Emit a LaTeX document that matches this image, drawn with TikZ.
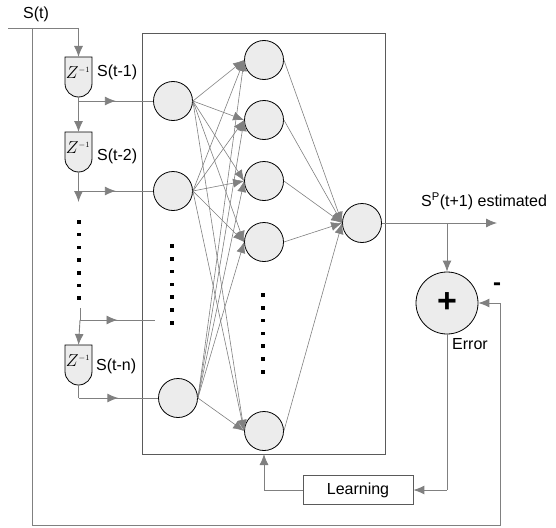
\documentclass[tikz,border=0pt]{standalone}
\usepackage{fontspec}
\setmainfont{Liberation Sans}
\usetikzlibrary{arrows.meta,decorations.markings,calc}
\definecolor{lgray}{RGB}{128,128,128}
\definecolor{nfill}{RGB}{236,236,236}
\definecolor{bgray}{RGB}{90,90,90}
\tikzset{
  conn/.style={draw=lgray, line width=0.9pt},
  tip/.style={-{Latex[length=11pt,width=9pt]}, lgray},
  arr/.style={conn, tip},
  midarr/.style={conn, postaction={decorate}, decoration={markings,
     mark=at position 0.5 with {\arrow[lgray]{Latex[length=11pt,width=9pt]}}}},
  neuron/.style={circle, draw=black, fill=nfill, line width=0.8pt, minimum size=39pt, inner sep=0pt},
  delaybox/.style={draw=black, fill=nfill, line width=0.8pt},
  lbl/.style={font=\fontsize{16}{19}\selectfont, inner sep=0pt},
  dotsq/.style={fill=black, minimum size=3.5pt, inner sep=0pt, draw=none, rectangle},
}
\begin{document}
\begin{tikzpicture}[x=1pt,y=-1pt]
\useasboundingbox (0,0) rectangle (556,527);

% outer network box
\node[draw=bgray, line width=1pt, minimum width=243pt, minimum height=420pt, inner sep=0pt] (net) at (263.5,244) {};

% delay boxes
\foreach \n/\t in {1/57, 2/132, 3/345} {
  \path[delaybox] (65,\t) -- (92,\t) -- (92,\t+26.5) arc[start angle=0, end angle=180, radius=13.5] -- cycle;
  \node[inner sep=0pt, minimum width=27pt, minimum height=27pt] (d\n) at (78.5,\t+20) {};
  \node[inner sep=0pt] (z\n) at (78,\t+16) {\fontsize{16}{18}\selectfont$Z^{\scriptscriptstyle -1}$};
  \coordinate (d\n t) at (78.5,\t);
  \coordinate (d\n b) at (78.5,\t+40);
}

% labels
\node[lbl, anchor=west] (st) at (23,14) {S(t)};
\node[lbl, anchor=west] (l1) at (97,72) {S(t-1)};
\node[lbl, anchor=west] (l2) at (97,156) {S(t-2)};
\node[lbl, anchor=west] (ln) at (96,366) {S(t-n)};

% neurons
\node[neuron] (i1) at (173,101) {};
\node[neuron] (i2) at (173,191) {};
\node[neuron] (i3) at (178,398) {};
\node[neuron] (h1) at (264,60) {};
\node[neuron] (h2) at (264,120) {};
\node[neuron] (h3) at (264,181) {};
\node[neuron] (h4) at (264,242) {};
\node[neuron] (h5) at (264,431) {};
\node[neuron] (o) at (362,223) {};

% dots
\foreach \k in {0,...,6} {
  \node[dotsq] (a\k) at (79,222+12.7*\k) {};
  \node[dotsq] (b\k) at (172,246+12.8*\k) {};
  \node[dotsq] (c\k) at (263,295+12.8*\k) {};
}

% input line
\coordinate (s0) at (8,28);
\coordinate (s1) at (32,28);
\coordinate (s2) at (78.5,28);
\draw[conn] (s0) -- (s2);
\draw[arr] (s2) -- (d1t);

% delay 1
\coordinate (j1) at (78.5,101);
\draw[conn] (d1b) -- (j1);
\draw[midarr] (j1) -- (i1);
\draw[arr] (j1) -- (d2t);

% delay 2
\coordinate (j2) at (78.5,191);
\coordinate (j2e) at (78.5,202);
\draw[conn] (d2b) -- (j2);
\draw[midarr] (j2) -- (i2);
\draw[arr] (j2) -- (j2e);

% before delay n
\coordinate (k0) at (80,308);
\coordinate (k1) at (80,320);
\coordinate (k2) at (155,320);
\coordinate (k3) at (78.5,345);
\draw[conn] (k0) -- (k1);
\draw[arr] (k1) -- (k3);
\draw[midarr] (k1) -- (k2);

% delay n
\coordinate (j3) at (78.5,398);
\draw[conn] (d3b) -- (j3);
\draw[midarr] (j3) -- (i3);

% input to hidden
\foreach \i in {1,2,3} {
  \foreach \h in {1,...,5} {
    \draw[arr, line width=0.6pt] (i\i.east) -- (h\h.west);
  }
}
% hidden to output
\foreach \h in {1,...,5} {
  \draw[arr, line width=0.6pt] (h\h.east) -- (o.west);
}

% output
\coordinate (oe) at (497,223);
\coordinate (ob) at (447,223);
\draw[arr] (o) -- (oe);
\node[lbl, anchor=west] (est) at (421,201) {S\textsuperscript{P}(t+1) estimated};

% error circle
\node[circle, draw=black, fill=nfill, line width=0.8pt, minimum size=62pt, inner sep=0pt] (plus) at (447,303) {\fontsize{34}{34}\selectfont\textbf{+}};
\draw[arr] (ob) -- (plus);
\node[font=\fontsize{24}{24}\selectfont\bfseries, inner sep=0pt] (minus) at (497,287) {-};
\node[lbl, anchor=west] (err) at (452,344) {Error};

% learning
\node[draw=bgray, line width=0.8pt, minimum width=110pt, minimum height=29pt, inner sep=0pt, font=\fontsize{16}{19}\selectfont] (learn) at (358,490) {Learning};
\coordinate (e1) at (447,490);
\draw[conn] (plus.south) -- (e1);
\draw[arr] (e1) -- (learn.east);
\coordinate (e2) at (264,490);
\coordinate (e3) at (264,454);
\draw[conn] (learn.west) -- (e2);
\draw[arr] (e2) -- (e3);

% feedback of S(t)
\coordinate (f1) at (32,525);
\coordinate (f2) at (500,525);
\coordinate (f3) at (500,303);
\draw[conn] (s1) -- (f1) -- (f2) -- (f3);
\draw[arr] (f3) -- (plus.east);
\end{tikzpicture}
\end{document}
